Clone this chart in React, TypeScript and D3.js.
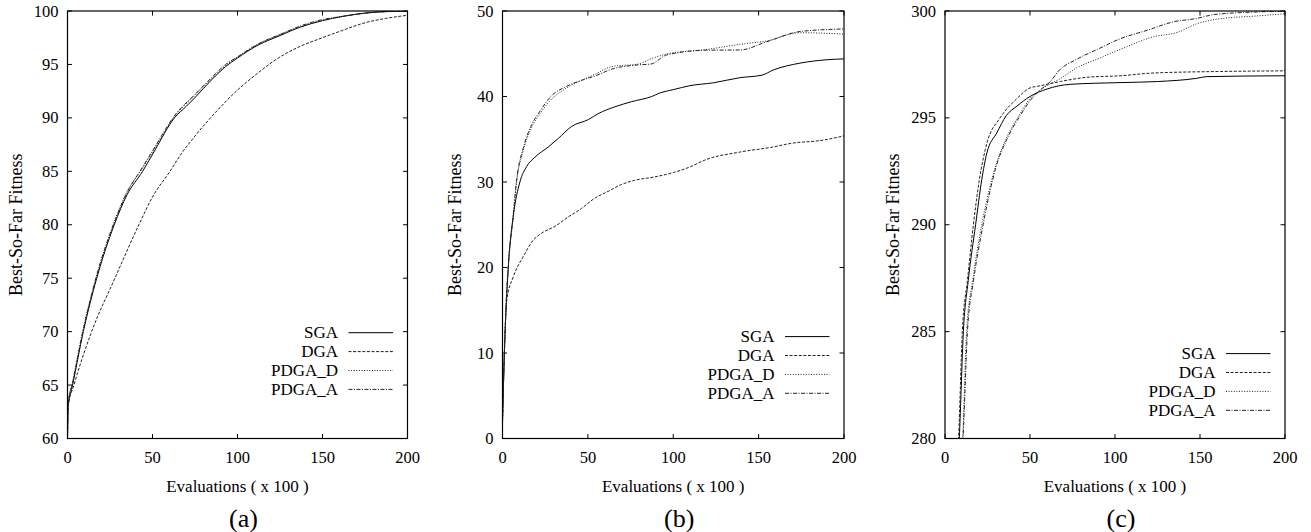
import React, { useEffect, useRef } from 'react';
import * as d3 from 'd3';

type Pt = [number, number];

// ---- panel (a) ----
const aSGA: Pt[] = [[0, 60], [0.4, 63], [3, 65], [9.3, 70], [17.2, 75], [27.5, 80], [35, 82.8], [44.2, 85], [51.5, 87], [62.9, 90], [70, 91.1], [75, 91.9], [85, 93.6], [93, 94.8], [100, 95.6], [112, 96.8], [125, 97.7], [137, 98.5], [150, 99.1], [162, 99.5], [175, 99.8], [187, 99.95], [200, 100]];
const aDGA: Pt[] = [[0, 60], [0.4, 63], [3.8, 65], [14.2, 70], [27.9, 75], [42, 80], [50, 82.6], [60.3, 85], [67.2, 86.7], [75, 88.3], [87, 90.5], [100, 92.6], [112, 94.2], [125, 95.7], [137, 96.7], [150, 97.5], [162, 98.2], [175, 98.9], [187, 99.3], [200, 99.6]];
const aPDGA_D: Pt[] = [[0, 60], [0.4, 63.3], [3, 65.3], [9.3, 70.3], [17.2, 75.2], [27.5, 80.3], [35, 83.1], [44.2, 85.3], [51.5, 87.2], [62.9, 90.1], [75, 92.1], [85, 93.7], [93, 94.9], [100, 95.7], [112, 96.9], [125, 97.8], [137, 98.5], [150, 99.1], [162, 99.5], [175, 99.8], [200, 100]];
const aPDGA_A: Pt[] = [[0, 60], [0.4, 63.2], [3, 65.2], [9.3, 70.2], [17.2, 75.3], [27.5, 80.2], [35, 83.0], [44.2, 85.4], [51.5, 87.3], [62.9, 90.2], [75, 92.2], [85, 93.8], [93, 95.0], [100, 95.7], [112, 96.9], [125, 97.8], [137, 98.6], [150, 99.2], [162, 99.5], [175, 99.8], [200, 100]];

// ---- panel (b) ----
const bSGA: Pt[] = [[0, 2], [1.1, 10], [3.4, 20], [6.3, 26], [10.2, 30], [14.1, 31.8], [19, 32.9], [26.8, 34.1], [32.7, 35.1], [40.5, 36.5], [50.3, 37.3], [56.1, 38.0], [65.9, 38.8], [75.7, 39.4], [87.4, 40], [92, 40.4], [100, 40.8], [109.8, 41.27], [123.5, 41.6], [139, 42.2], [152, 42.5], [158.6, 43.1], [174.2, 43.9], [190, 44.3], [200, 44.4]];
const bDGA: Pt[] = [[0, 2], [1.1, 10], [2.5, 16.2], [6.3, 18.9], [12.2, 21.3], [18, 23.2], [22.8, 24.0], [30.6, 24.8], [38.4, 25.9], [46.2, 26.9], [54, 28.1], [61.8, 28.9], [69.6, 29.7], [77.4, 30.2], [89.2, 30.6], [100, 31.1], [109, 31.7], [119.6, 32.65], [139, 33.5], [158.6, 34.1], [168.4, 34.5], [187.9, 34.9], [200, 35.4]];
const bPDGA_D: Pt[] = [[0, 2], [1.1, 10], [2.2, 16], [3.4, 20], [6.3, 25.9], [8.3, 30], [12.2, 33.7], [17.1, 36.4], [22, 38], [27.8, 39.5], [37.6, 41.0], [46.4, 41.9], [54.2, 42.6], [64, 43.5], [79.5, 43.8], [86.9, 44.4], [96.2, 44.97], [119.6, 45.5], [139, 46.1], [154.7, 46.5], [174.2, 47.46], [200, 47.3]];
const bPDGA_A: Pt[] = [[0, 2], [1.1, 10], [2.2, 16.2], [3.4, 20.3], [6.3, 26.2], [8.3, 30.3], [12.2, 34], [17.1, 36.7], [22, 38.3], [27.8, 39.9], [37.6, 41.2], [46.4, 41.9], [54.2, 42.4], [64, 43.2], [79.5, 43.7], [86.9, 43.8], [96.2, 44.86], [119.6, 45.42], [139, 45.44], [154.7, 46.4], [174.2, 47.6], [200, 47.9]];

// ---- panel (c) ----
const cSGA: Pt[] = [[7, 278], [8.4, 280], [10.8, 285], [13.7, 287.4], [18, 290], [21.6, 292.1], [24.6, 293.35], [30.5, 294.3], [36, 295.1], [42.3, 295.55], [50, 296.0], [60, 296.35], [73.7, 296.57], [103, 296.65], [125, 296.7], [148, 296.85], [154, 296.93], [200, 296.97]];
const cDGA: Pt[] = [[6.8, 278], [8, 280], [10.2, 285], [13.2, 287.4], [16.7, 290], [20.2, 292.1], [24.6, 293.8], [32.4, 295.0], [42.3, 295.9], [50, 296.4], [56, 296.5], [67.8, 296.7], [83.6, 296.9], [103, 296.97], [123, 297.1], [162, 297.17], [200, 297.2]];
const cPDGA_D: Pt[] = [[8.8, 278], [10.4, 280], [12.7, 285], [16.3, 287.4], [21.6, 290], [27.5, 292.1], [30, 292.8], [36.4, 294.1], [44.2, 295.2], [50, 295.9], [56, 296.3], [62, 296.6], [67, 296.8], [77.7, 297.35], [89.5, 297.75], [103, 298.2], [123, 298.8], [136.7, 299.0], [148, 299.4], [162, 299.64], [182, 299.76], [200, 299.87]];
const cPDGA_A: Pt[] = [[9, 278], [10.6, 280], [13.2, 285], [16.8, 287.4], [22.4, 290], [28, 292.1], [30, 292.7], [36.4, 294.0], [44.2, 295.1], [50, 295.8], [56, 296.3], [62, 296.7], [66.9, 297.2], [77.7, 297.75], [89.5, 298.2], [103, 298.7], [119, 299.1], [134.7, 299.5], [148, 299.65], [158, 299.83], [182, 299.95], [200, 300]];

const seriesNames = ['SGA', 'DGA', 'PDGA_D', 'PDGA_A'];
const dashes = ['none', '3,1.6', '1,1.6', '4,1.5,1,1.5'];
const xTicks = [0, 50, 100, 150, 200];

const FONT = '"Liberation Serif", "Times New Roman", serif';
const TOP = 11;
const BOTTOM = 438.5;

interface PanelProps {
  id: string;
  series: Pt[][];
  yDomain: [number, number];
  yTicks: number[];
  left: number;
  right: number;
  yTitleX: number;
  legendY: number;
  label: string;
}

const Panel: React.FC<PanelProps> = ({ id, series, yDomain, yTicks, left, right, yTitleX, legendY, label }) => {
  const gRef = useRef<SVGGElement | null>(null);

  useEffect(() => {
    if (!gRef.current) return;
    const g = d3.select(gRef.current);
    g.selectAll('*').remove();

    const x = d3.scaleLinear().domain([0, 200]).range([left, right]);
    const y = d3.scaleLinear().domain(yDomain).range([BOTTOM, TOP]);

    g.append('clipPath')
      .attr('id', `clip-${id}`)
      .append('rect')
      .attr('x', left)
      .attr('y', TOP)
      .attr('width', right - left)
      .attr('height', BOTTOM - TOP);

    const line = d3.line<Pt>()
      .x(d => x(d[0]))
      .y(d => y(d[1]))
      .curve(d3.curveMonotoneX);

    g.append('g')
      .attr('clip-path', `url(#clip-${id})`)
      .selectAll('path')
      .data(series)
      .enter()
      .append('path')
      .attr('d', d => line(d))
      .attr('fill', 'none')
      .attr('stroke', (d, i) => (i === 0 ? '#000' : '#222'))
      .attr('stroke-width', 1)
      .attr('stroke-dasharray', (d, i) => dashes[i]);

    // ticks, mirrored on all sides, pointing inward
    const tl = 4.5;
    const ticks = g.append('g').attr('stroke', '#000').attr('stroke-width', 1);
    xTicks.forEach(t => {
      ticks.append('line').attr('x1', x(t)).attr('x2', x(t)).attr('y1', BOTTOM).attr('y2', BOTTOM - tl);
      ticks.append('line').attr('x1', x(t)).attr('x2', x(t)).attr('y1', TOP).attr('y2', TOP + tl);
    });
    yTicks.forEach(t => {
      ticks.append('line').attr('x1', left).attr('x2', left + tl).attr('y1', y(t)).attr('y2', y(t));
      ticks.append('line').attr('x1', right).attr('x2', right - tl).attr('y1', y(t)).attr('y2', y(t));
    });

    g.append('rect')
      .attr('x', left)
      .attr('y', TOP)
      .attr('width', right - left)
      .attr('height', BOTTOM - TOP)
      .attr('fill', 'none')
      .attr('stroke', '#000')
      .attr('stroke-width', 1.2);

    const text = g.append('g').attr('font-family', FONT).attr('fill', '#000');

    text.selectAll('.xt')
      .data(xTicks)
      .enter()
      .append('text')
      .attr('x', d => x(d))
      .attr('y', 463)
      .attr('text-anchor', 'middle')
      .attr('font-size', 16.5)
      .text(d => d);

    text.selectAll('.yt')
      .data(yTicks)
      .enter()
      .append('text')
      .attr('x', left - 9)
      .attr('y', d => y(d))
      .attr('dy', '0.34em')
      .attr('text-anchor', 'end')
      .attr('font-size', 16.5)
      .text(d => d);

    text.append('text')
      .attr('x', (left + right) / 2)
      .attr('y', 492)
      .attr('text-anchor', 'middle')
      .attr('font-size', 17)
      .text('Evaluations ( x 100 )');

    text.append('text')
      .attr('transform', `translate(${yTitleX},${(TOP + BOTTOM) / 2}) rotate(-90)`)
      .attr('text-anchor', 'middle')
      .attr('font-size', 18)
      .text('Best-So-Far Fitness');

    text.append('text')
      .attr('x', (left + right) / 2 + 6)
      .attr('y', 526.5)
      .attr('text-anchor', 'middle')
      .attr('font-size', 26)
      .text(label);

    // legend
    const rowH = 18.9;
    seriesNames.forEach((name, i) => {
      const ry = legendY + i * rowH;
      text.append('text')
        .attr('x', right - 69.5)
        .attr('y', ry + 5.7)
        .attr('text-anchor', 'end')
        .attr('font-size', 17)
        .text(name);
      g.append('line')
        .attr('x1', right - 59)
        .attr('x2', right - 14.5)
        .attr('y1', ry)
        .attr('y2', ry)
        .attr('stroke', i === 0 ? '#000' : '#222')
        .attr('stroke-width', 1)
        .attr('stroke-dasharray', dashes[i]);
    });
  }, [id, series, yDomain, yTicks, left, right, yTitleX, legendY, label]);

  return <g ref={gRef} />;
};

const App: React.FC = () => {
  return (
    <svg width={1311} height={532} style={{ position: 'absolute', left: 0, top: 0, background: '#fff' }}>
      <rect width={1311} height={532} fill="#fff" />
      <Panel id="a" series={[aSGA, aDGA, aPDGA_D, aPDGA_A]} yDomain={[60, 100]} yTicks={[60, 65, 70, 75, 80, 85, 90, 95, 100]}
        left={67.5} right={407.5} yTitleX={22} legendY={332.7} label="(a)" />
      <Panel id="b" series={[bSGA, bDGA, bPDGA_D, bPDGA_A]} yDomain={[0, 50]} yTicks={[0, 10, 20, 30, 40, 50]}
        left={502.5} right={844} yTitleX={460.5} legendY={336.6} label="(b)" />
      <Panel id="c" series={[cSGA, cDGA, cPDGA_D, cPDGA_A]} yDomain={[280, 300]} yTicks={[280, 285, 290, 295, 300]}
        left={945} right={1285} yTitleX={898.5} legendY={353.6} label="(c)" />
    </svg>
  );
};

export default App;
